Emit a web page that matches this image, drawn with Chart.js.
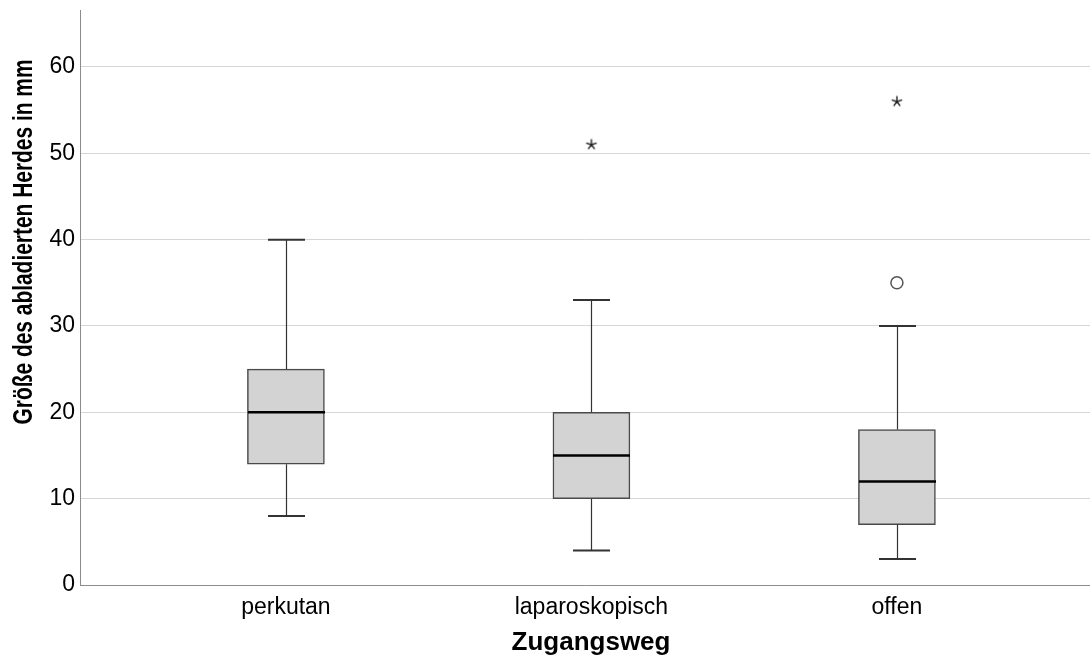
<!DOCTYPE html>
<html>
<head>
<meta charset="utf-8">
<script src="https://cdn.jsdelivr.net/npm/chart.js@4.4.1/dist/chart.umd.min.js"></script>
<style>
  html, body { margin: 0; padding: 0; background: #fff; }
  #wrap { width: 1090px; height: 659px; }
</style>
</head>
<body>
<div id="wrap"><canvas id="boxChart" width="1090" height="659"></canvas></div>
<script>
// box plot data
const categories = ['perkutan', 'laparoskopisch', 'offen'];
const whiskerLow = [8, 4, 3];
const q1 = [14, 10, 7];
const median = [20, 15, 12];
const q3 = [25, 20, 18];
const whiskerHigh = [40, 33, 30];
const outliers = [{ cat: 3, value: 35 }];        // circles
const extremes = [{ cat: 2, value: 51 }, { cat: 3, value: 56 }]; // stars
const yTicks = [0, 10, 20, 30, 40, 50, 60];

const yTitle = 'Größe des abladierten Herdes in mm';
const xTitle = 'Zugangsweg';

// little 5-arm asterisk for the extreme values
function makeStar() {
    const c = document.createElement('canvas');
    c.width = 14; c.height = 14;
    const g = c.getContext('2d');
    g.strokeStyle = '#222';
    g.lineWidth = 1.4;
    g.beginPath();
    for (let k = 0; k < 5; k++) {
        const a = -Math.PI / 2 + k * 2 * Math.PI / 5;
        g.moveTo(7, 7);
        g.lineTo(7 + 5.5 * Math.cos(a), 7 + 5.5 * Math.sin(a));
    }
    g.stroke();
    return c;
}

// whiskers, caps, medians and axis titles
const boxExtras = {
    id: 'boxExtras',
    afterDatasetsDraw(chart) {
        const ctx = chart.ctx;
        const xs = chart.scales.x, ys = chart.scales.y;
        ctx.save();
        categories.forEach((c, i) => {
            const x = Math.round(xs.getPixelForValue(i + 1)) + 0.5;
            const capHalf = 18.5;
            ctx.strokeStyle = '#333';
            ctx.lineWidth = 1.2;
            ctx.beginPath();
            ctx.moveTo(x, ys.getPixelForValue(q3[i]));
            ctx.lineTo(x, ys.getPixelForValue(whiskerHigh[i]));
            ctx.moveTo(x, ys.getPixelForValue(q1[i]));
            ctx.lineTo(x, ys.getPixelForValue(whiskerLow[i]));
            ctx.stroke();
            ctx.lineWidth = 2;
            ctx.beginPath();
            ctx.moveTo(x - capHalf, ys.getPixelForValue(whiskerHigh[i]));
            ctx.lineTo(x + capHalf, ys.getPixelForValue(whiskerHigh[i]));
            ctx.moveTo(x - capHalf, ys.getPixelForValue(whiskerLow[i]));
            ctx.lineTo(x + capHalf, ys.getPixelForValue(whiskerLow[i]));
            ctx.stroke();
            // median
            ctx.strokeStyle = '#000';
            ctx.lineWidth = 2.5;
            ctx.beginPath();
            ctx.moveTo(x - 38.5, ys.getPixelForValue(median[i]));
            ctx.lineTo(x + 38.5, ys.getPixelForValue(median[i]));
            ctx.stroke();
        });
        ctx.restore();
    },
    afterDraw(chart) {
        const ctx = chart.ctx;
        ctx.save();
        ctx.fillStyle = '#000';
        ctx.textAlign = 'center';
        ctx.textBaseline = 'middle';
        ctx.font = 'bold 26px "Liberation Sans", Arial, sans-serif';
        ctx.fillText(xTitle, 591, 643);
        // y title, squeezed a little along its length like the original
        ctx.font = 'bold 28px "Liberation Sans", Arial, sans-serif';
        ctx.translate(24, 242);
        ctx.rotate(-Math.PI / 2);
        const w = ctx.measureText(yTitle).width;
        ctx.scale(365 / w, 1);
        ctx.fillText(yTitle, 0, 0);
        ctx.restore();
    }
};

const ctx = document.getElementById('boxChart').getContext('2d');
const boxChart = new Chart(ctx, {
    type: 'bar',
    data: {
        datasets: [{
            label: 'box',
            data: categories.map((c, i) => ({ x: i + 1, y: [q1[i], q3[i]] })),
            backgroundColor: '#d3d3d3',
            borderColor: '#4a4a4a',
            borderWidth: 1.5,
            borderSkipped: false,
            barThickness: 77
        }, {
            type: 'scatter',
            label: 'outliers',
            data: outliers.map(o => ({ x: o.cat, y: o.value })),
            pointStyle: 'circle',
            radius: 6,
            borderColor: '#555',
            backgroundColor: '#fff',
            borderWidth: 1.5
        }, {
            type: 'scatter',
            label: 'extremes',
            data: extremes.map(o => ({ x: o.cat, y: o.value })),
            pointStyle: makeStar(),
            radius: 7
        }]
    },
    options: {
        responsive: false,
        animation: false,
        layout: { autoPadding: false, padding: { top: 10, right: 0, left: 0, bottom: 0 } },
        plugins: {
            legend: { display: false },
            tooltip: { enabled: false }
        },
        scales: {
            x: {
                type: 'linear',
                offset: false,
                min: 0.326,
                max: 3.632,
                afterBuildTicks: (axis) => { axis.ticks = categories.map((c, i) => ({ value: i + 1 })); },
                afterFit: (axis) => {
                    axis.height = 74;
                    axis.paddingLeft = 0;
                    axis.paddingRight = 0;
                },
                grid: { display: false, drawTicks: false, offset: false },
                border: { display: true, color: '#8c8c8c', width: 1 },
                ticks: {
                    padding: 9,
                    color: '#000',
                    font: { family: '"Liberation Sans", Arial, sans-serif', size: 23 },
                    callback: (v) => categories[v - 1] || ''
                }
            },
            y: {
                min: 0,
                max: 66.6,
                afterBuildTicks: (axis) => { axis.ticks = yTicks.map(v => ({ value: v })); },
                afterFit: (axis) => {
                    axis.width = 80;
                    axis.paddingTop = 0;
                    axis.paddingBottom = 0;
                },
                grid: { color: '#d6d6d6', lineWidth: 1, drawTicks: false },
                border: { display: true, color: '#8c8c8c', width: 1 },
                ticks: {
                    padding: 5,
                    color: '#000',
                    font: { family: '"Liberation Sans", Arial, sans-serif', size: 23 }
                }
            }
        }
    },
    plugins: [boxExtras]
});
</script>
</body>
</html>
